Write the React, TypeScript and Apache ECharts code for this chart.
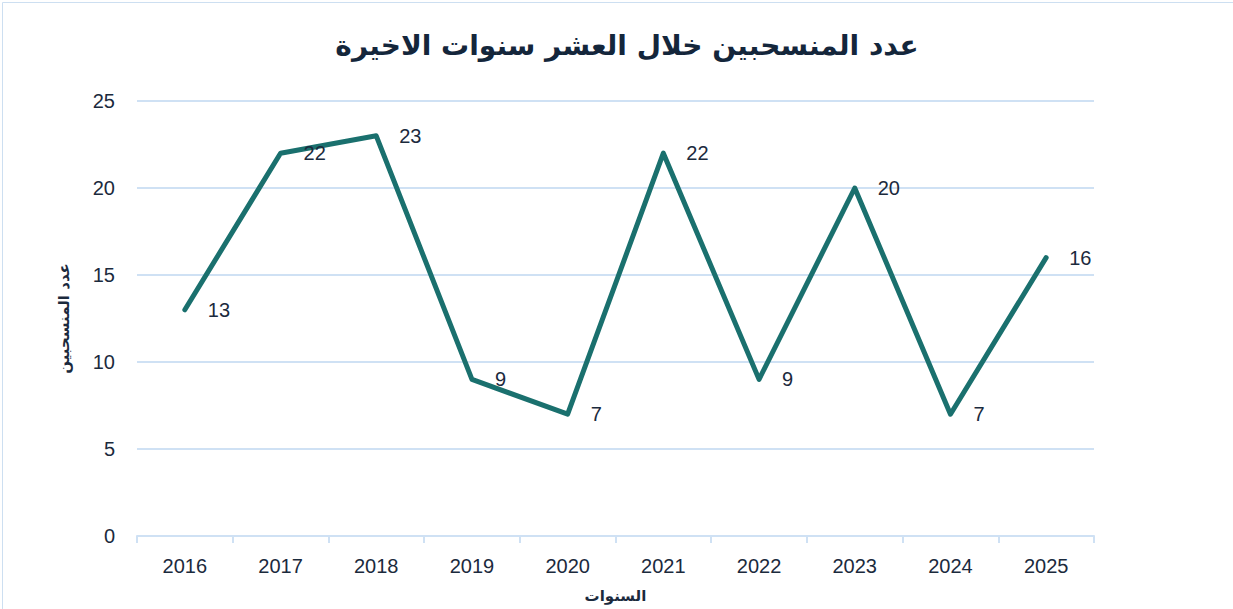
import React, { useEffect, useRef } from "react";
import * as echarts from "echarts";

const titleText = "عدد المنسحبين خلال العشر سنوات الاخيرة";
const yAxisName = "عدد المنسحبين";
const xAxisName = "السنوات";
const years = ["2016", "2017", "2018", "2019", "2020", "2021", "2022", "2023", "2024", "2025"];
const withdrawn = [13, 22, 23, 9, 7, 22, 9, 20, 7, 16];

const textColor = "#1b2a3d";
const gridColor = "#cfe1f4";
const lineColor = "#1a706e";

export default function App() {
  const ref = useRef<HTMLDivElement>(null);
  useEffect(() => {
    document.body.style.margin = "0";
    const chart = echarts.init(ref.current!, null, { renderer: "svg" });
    chart.setOption({
      animation: false,
      backgroundColor: "#ffffff",
      title: {
        text: titleText,
        left: 622,
        textAlign: "center",
        top: 26,
        textStyle: {
          fontFamily: "DejaVu Sans",
          fontWeight: "bold",
          fontSize: 28,
          color: "#14263b",
        },
      },
      graphic: [
        {
          type: "rect",
          shape: { x: 2.5, y: 2.5, width: 1300, height: 700 },
          style: { fill: "none", stroke: "#cddff1", lineWidth: 1 },
          silent: true,
        },
      ],
      grid: { left: 137, right: 139, top: 101, bottom: 73 },
      xAxis: {
        type: "category",
        data: years,
        boundaryGap: true,
        name: xAxisName,
        nameLocation: "middle",
        nameGap: 52,
        nameTextStyle: {
          fontFamily: "DejaVu Sans",
          fontWeight: "bold",
          fontSize: 15,
          color: textColor,
        },
        axisLine: { lineStyle: { color: gridColor, width: 2 } },
        axisTick: { show: true, alignWithLabel: false, length: 7, lineStyle: { color: gridColor, width: 2 } },
        axisLabel: { fontFamily: "Liberation Sans", fontSize: 20, color: textColor, margin: 20 },
        splitLine: { show: false },
      },
      yAxis: {
        type: "value",
        min: 0,
        max: 25,
        interval: 5,
        name: yAxisName,
        nameLocation: "middle",
        nameGap: 66,
        nameRotate: 90,
        nameTextStyle: {
          fontFamily: "DejaVu Sans",
          fontWeight: "bold",
          fontSize: 15,
          color: textColor,
        },
        axisLine: { show: false },
        axisTick: { show: false },
        axisLabel: { fontFamily: "Liberation Sans", fontSize: 20, color: textColor, margin: 22 },
        splitLine: { lineStyle: { color: gridColor, width: 2 } },
      },
      series: [
        {
          type: "line",
          data: withdrawn,
          symbol: "circle",
          symbolSize: 2,
          showSymbol: true,
          lineStyle: { color: lineColor, width: 5, cap: "round", join: "round" },
          itemStyle: { color: lineColor },
          label: {
            show: true,
            position: "right",
            distance: 22,
            fontFamily: "Liberation Sans",
            fontSize: 20,
            color: textColor,
          },
        },
      ],
    });
    return () => chart.dispose();
  }, []);
  return <div ref={ref} style={{ width: 1233, height: 609 }} />;
}
